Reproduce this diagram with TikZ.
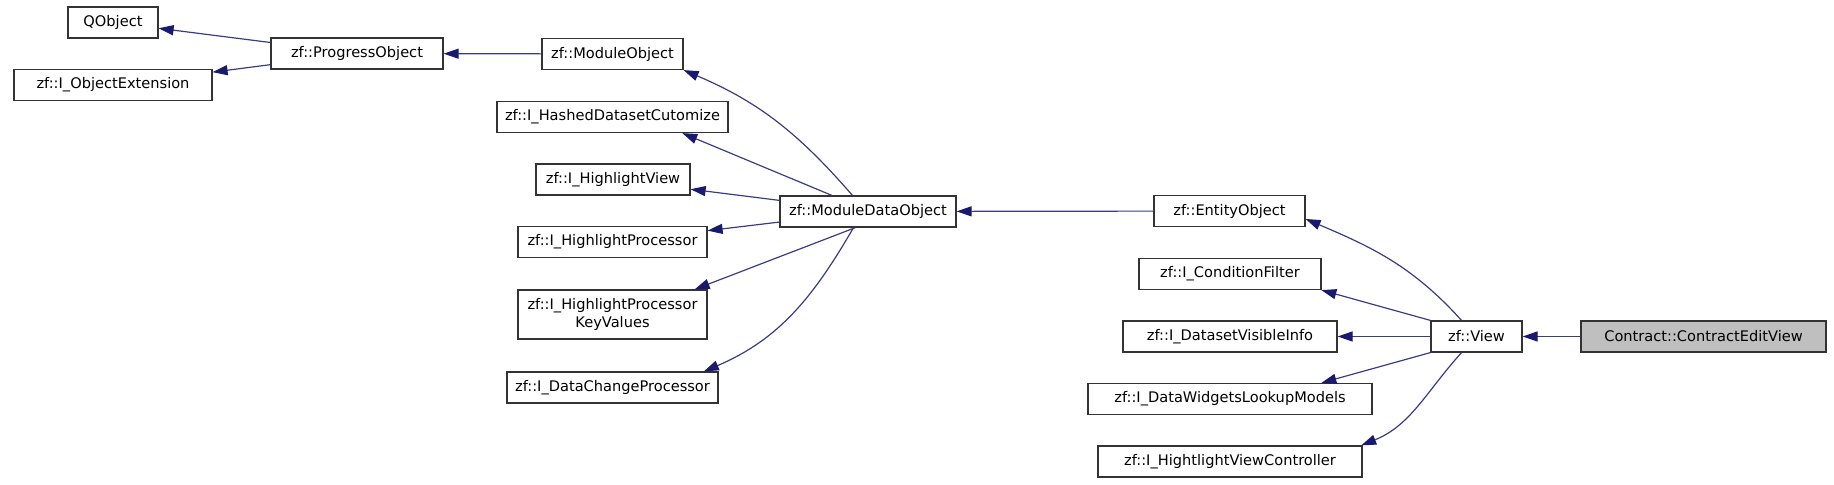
\documentclass[tikz,border=0pt]{standalone}
\usepackage{fontspec}
\setmainfont{DejaVu Sans}
\usetikzlibrary{arrows.meta}
\definecolor{edgeblue}{RGB}{25,25,112}
\definecolor{selgray}{RGB}{191,191,191}

\tikzset{
  cls/.style={draw=black!80, line width=0.6pt, inner sep=0pt, minimum height=15.5pt,
    align=center, font=\fontsize{7.3}{9}\selectfont},
  inh/.style={edgeblue!85!white, line width=0.6pt,
    -{Triangle[length=7.5pt,width=5pt,color=edgeblue,fill=edgeblue]}},
}

\begin{document}
\begin{tikzpicture}[x=0.5pt, y=-0.5pt]

        \useasboundingbox (0,0) rectangle (1834,485);

        % base classes
        \node[cls, minimum width=45pt] (qobj) at (113,22.5) {QObject};
        \node[cls, minimum width=99pt] (objext) at (113,85) {zf::I\_ObjectExtension};
        \node[cls, minimum width=86pt] (prog) at (357,53.5) {zf::ProgressObject};

        \node[cls, minimum width=70.5pt] (modobj) at (612.5,54) {zf::ModuleObject};
        \node[cls, minimum width=115.5pt] (hashed) at (612.5,117) {zf::I\_HashedDatasetCutomize};
        \node[cls, minimum width=77pt] (hlview) at (613,179.5) {zf::I\_HighlightView};
        \node[cls, minimum width=94.5pt] (hlproc) at (612.5,242) {zf::I\_HighlightProcessor};
        \node[cls, minimum width=94.5pt, minimum height=24.5pt] (hlkv) at (612.5,314.5) {zf::I\_HighlightProcessor\\KeyValues};
        \node[cls, minimum width=105.5pt] (dchg) at (612.5,387.5) {zf::I\_DataChangeProcessor};

        \node[cls, minimum width=88pt] (mdo) at (868,211.5) {zf::ModuleDataObject};

        % view side
        \node[cls, minimum width=75.5pt] (entity) at (1229.5,211) {zf::EntityObject};
        \node[cls, minimum width=91pt] (cfilter) at (1230,274) {zf::I\_ConditionFilter};
        \node[cls, minimum width=107pt] (dvis) at (1230,336.5) {zf::I\_DatasetVisibleInfo};
        \node[cls, minimum width=142pt] (dwlm) at (1230,399) {zf::I\_DataWidgetsLookupModels};
        \node[cls, minimum width=132pt] (hvc) at (1230,461.5) {zf::I\_HightlightViewController};

        \node[cls, minimum width=45.5pt] (view) at (1476.5,336.5) {zf::View};
        \node[cls, minimum width=122.5pt, fill=selgray] (cedit) at (1703.5,336.5) {Contract::ContractEditView};

        % inheritance
        \draw[inh] (prog) -- (qobj);
        \draw[inh] (prog) -- (objext);
        \draw[inh] (modobj) -- (prog);

        \draw[inh] (mdo.134) to[out=131, in=-23] (modobj.south east);
        \draw[inh] (mdo.156) -- (hashed.-13);
        \draw[inh] (mdo) -- (hlview);
        \draw[inh] (mdo) -- (hlproc);
        \draw[inh] (mdo.232) -- (hlkv.17.5);
        \draw[inh] (mdo.228) to[out=240, in=23] (dchg.10.6);

        \draw[inh] (entity) -- (mdo);

        \draw[inh] (view.133) to[out=132, in=-23] (entity.-6.6);
        \draw[inh] (view.north west) -- (cfilter.-10.4);
        \draw[inh] (view) -- (dvis);
        \draw[inh] (view.south west) -- (dwlm.10.4);
        \draw[inh] (view.227) to[out=228, in=22] (hvc.7.8);

        \draw[inh] (cedit) -- (view);

    \end{tikzpicture}
\end{document}
